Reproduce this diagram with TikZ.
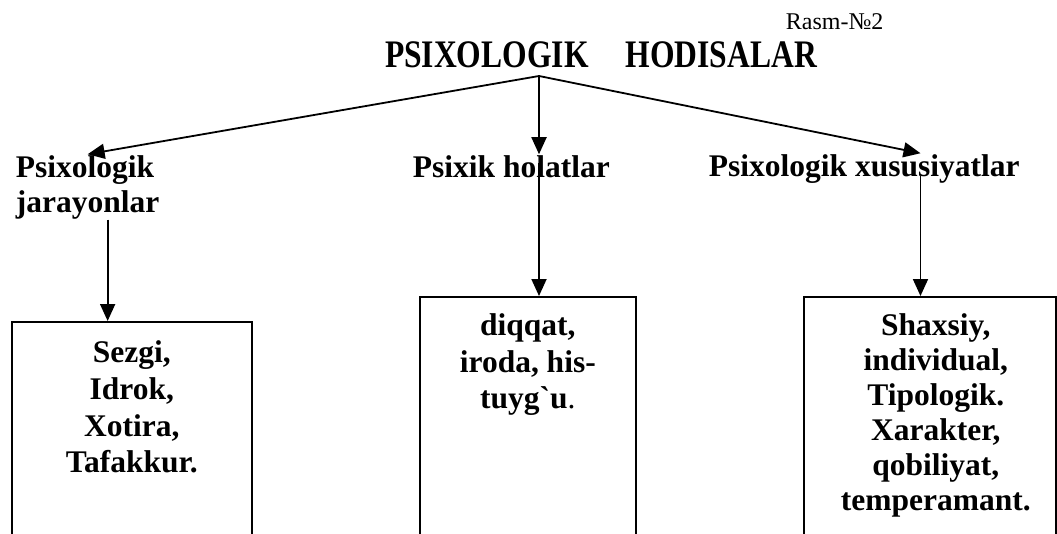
\documentclass[tikz,border=0pt]{standalone}
\usepackage{fontspec}
\setmainfont{Liberation Serif}[Ligatures=TeXOff]
\usetikzlibrary{arrows.meta,calc}
\tikzset{
  katta/.style={font=\fontsize{31.5}{35}\selectfont\bfseries, inner sep=0pt},
  blok/.style={draw, line width=1.6pt, anchor=north west, align=center, inner sep=0pt, text depth=180pt},
}

\begin{document}
\begin{tikzpicture}[x=1pt,y=-1pt,>={Triangle[length=17pt,width=15pt]},line width=1.8pt]
\useasboundingbox (0,0) rectangle (1057,533);
\node[anchor=base west,inner sep=0pt,font=\fontsize{24}{28}\selectfont] (rasm) at (785,29) {Rasm-№2};
\node[anchor=base,inner sep=0pt] (sarlavha) at (601,67) {\scalebox{0.81}[1]{\fontsize{39}{44}\selectfont\bfseries PSIXOLOGIK\hspace{36pt} HODISALAR}};
\coordinate (uch) at (539,76);

\node[katta,anchor=base west,align=left] (jar) at (15,212) {Psixologik\\jarayonlar};
\node[katta,anchor=base west] (hol) at (412,177) {Psixik holatlar};
\node[katta,anchor=base west] (xus) at (708,176) {Psixologik xususiyatlar};

\node[blok,minimum width=240pt,text height=151pt,font=\fontsize{31.5}{36.7}\selectfont\bfseries] (bjar) at (11,321) {Sezgi,\\Idrok,\\Xotira,\\Tafakkur.};
\node[blok,minimum width=216pt,text height=112pt,font=\fontsize{31.5}{36.5}\selectfont\bfseries] (bhol) at (419,296) {diqqat,\\iroda, his-\\tuyg`u{\mdseries .}};
\node[blok,minimum width=252pt,text height=214pt,font=\fontsize{31.5}{35}\selectfont\bfseries] (bxus) at (803,296) {\hspace*{12pt}Shaxsiy,\\\hspace*{12pt}individual,\\\hspace*{12pt}Tipologik.\\\hspace*{12pt}Xarakter,\\\hspace*{12pt}qobiliyat,\\\hspace*{12pt}temperamant.};

% yuqoridan tarmoqlar
\coordinate (xuc) at ($(xus.north west)!0.68!(xus.north east)$);
\draw[->] (uch) -- (jar.north);
\draw[->] (uch) -- (uch |- hol.north);
\draw[->] (uch) -- (xuc);

% pastga
\coordinate (jx) at ($(bjar.north west)!0.4!(bjar.north east)$);
\draw[->] (jar.south -| jx) -- (jx);
\draw[->,shorten <=9pt] (uch |- hol.north) -- (uch |- bhol.north);
\draw[->] (xuc |- xus.base) -- (xuc |- bxus.north);

\end{tikzpicture}
\end{document}
